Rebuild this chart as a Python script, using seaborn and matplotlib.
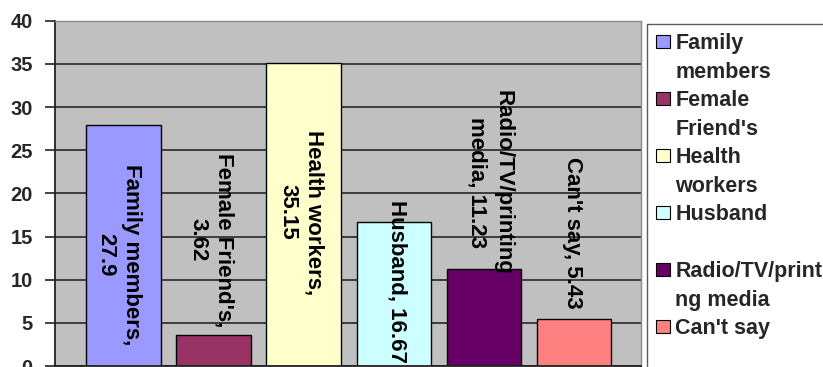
import matplotlib
matplotlib.use("Agg")
import matplotlib.pyplot as plt
from matplotlib.patches import Patch
import seaborn as sns

# Sources of information (percent of respondents)
categories = ["Family members", "Female Friend's", "Health workers",
              "Husband", "Radio/TV/printing media", "Can't say"]
values = [27.9, 3.62, 35.15, 16.67, 11.23, 5.43]
colors = ["#9999FF", "#993366", "#FFFFCC", "#CCFFFF", "#660066", "#FF8080"]

# Data-label prefixes; the number is appended from `values`
label_heads = ["Family members,\n", "Female Friend's,\n", "Health workers,\n",
               "Husband, ", "Radio/TV/printing\nmedia, ", "Can't say, "]

# Legend rows (first line carries the colour key, later lines are wraps)
legend_rows = [["Family", "members"], ["Female", "Friend's"],
               ["Health", "workers"], ["Husband", " "],
               ["Radio/TV/printi", "ng media"], ["Can't say", " "]]

y_ticks = [0, 5, 10, 15, 20, 25, 30, 35, 40]

# label layout: centre height (data units) and small horizontal nudge
label_center = [12.9, 14.6, 17.8, 9.8, 21.3, 15.4]
label_nudge = [-0.06, -0.03, -0.03, 0.03, 0.07, -0.02]

sns.set_style("white")
plt.rcParams["font.family"] = ["Liberation Sans", "DejaVu Sans"]

W, H = 823, 367
fig = plt.figure(figsize=(W / 100, H / 100), dpi=100)
ax = fig.add_axes([55 / W, 1 / H, 586 / W, 345.3 / H])

sns.barplot(x=categories, y=values, hue=categories, palette=colors,
            order=categories, hue_order=categories, width=0.83,
            saturation=1, edgecolor="black", linewidth=1.0,
            legend=False, ax=ax)

ax.set_facecolor("#C0C0C0")
ax.set_xlim(-0.763, 5.744)
ax.set_ylim(0, 40)
ax.set_yticks(y_ticks)
ax.set_yticklabels([str(t) for t in y_ticks], fontsize=14.5, fontweight="bold")
ax.tick_params(axis="y", direction="out", length=7, width=1.2,
               color="#222222", pad=9, left=True)
ax.tick_params(axis="x", bottom=False, labelbottom=False)
ax.set_xlabel("")
ax.set_ylabel("")
ax.yaxis.grid(True, color="#333333", linewidth=1.3)
ax.set_axisbelow(True)
for side in ("left", "bottom"):
    ax.spines[side].set_color("#222222")
    ax.spines[side].set_linewidth(1.3)
for side in ("top", "right"):
    ax.spines[side].set_color("#8C8C8C")
    ax.spines[side].set_linewidth(1.0)

# rotated data labels
for i, (head, v) in enumerate(zip(label_heads, values)):
    ax.text(i + label_nudge[i], label_center[i], f"{head}{v:g}",
            rotation=-90, ha="center", va="center", multialignment="center",
            fontsize=16, fontweight="bold", color="black", linespacing=1.3)

# legend: one keyed row per category plus un-keyed wrap rows
handles, texts = [], []
for rows, c in zip(legend_rows, colors):
    handles.append(Patch(facecolor=c, edgecolor="black", linewidth=0.8))
    texts.append(rows[0])
    for extra in rows[1:]:
        handles.append(Patch(facecolor="none", edgecolor="none"))
        texts.append(extra)

leg = fig.legend(handles, texts, loc="upper left",
                 bbox_to_anchor=(647 / W, 1 - 24 / H),
                 bbox_transform=fig.transFigure, borderaxespad=0,
                 frameon=True, fancybox=False, shadow=False,
                 prop={"size": 15.5, "weight": "bold"},
                 handlelength=0.65, handleheight=0.52, handletextpad=0.25,
                 labelspacing=0.35, borderpad=0.42)
leg.get_frame().set_edgecolor("#333333")
leg.get_frame().set_linewidth(1.0)
leg.get_frame().set_facecolor("white")

fig.savefig("out.png", dpi=100)
